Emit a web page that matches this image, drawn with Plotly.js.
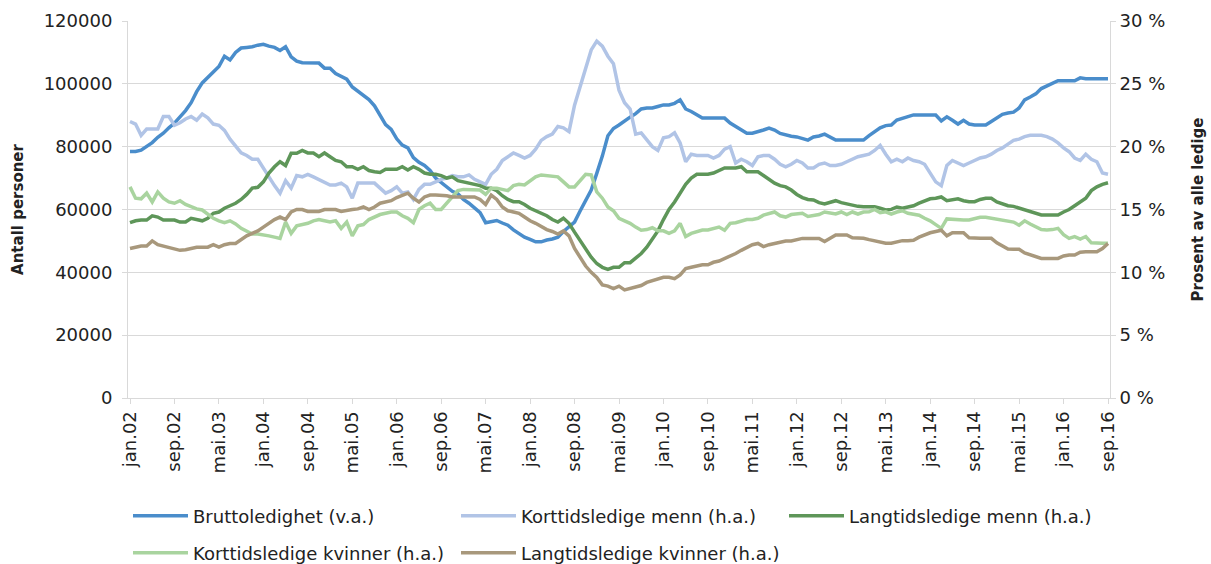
<!DOCTYPE html>
<html>
<head>
<meta charset="utf-8">
<script src="https://cdn.plot.ly/plotly-3.0.1.min.js"></script>
<style>
  html, body { margin: 0; padding: 0; background: #fff; }
  #chart { width: 1211px; height: 564px; }
</style>
</head>
<body>
<div id="chart"></div>
<script>
// månedlige observasjoner jan.02 - sep.16
var maaneder = ['jan', 'feb', 'mar', 'apr', 'mai', 'jun', 'jul', 'aug', 'sep', 'okt', 'nov', 'des'];
var periode = [];
for (var i = 0; i < 177; i++) {
  var aar = 2 + Math.floor(i / 12);
  periode.push(maaneder[i % 12] + '.' + (aar < 10 ? '0' + aar : '' + aar));
}
var tickPeriode = periode.filter(function (p, i) { return i % 8 === 0; });

// antall personer (venstre akse)
var brutto = [
  78500, 78500, 78900, 80000, 81300, 83000, 84300, 86000, 87500, 89500, 91500, 94000,
  97500, 100300, 102000, 103800, 105500, 108800, 107600, 110000, 111400, 111600, 111800, 112300,
  112600, 112000, 111600, 110600, 111800, 108600, 107200, 106700, 106600, 106600, 106600, 105000,
  105000, 103300, 102400, 101500, 99000, 97600, 96500, 95000, 93000, 90000, 87000, 85500,
  82500, 80500, 79600, 76500, 75000, 74000, 72400, 70000, 68500, 67000, 65800, 65000,
  63200, 62000, 60500, 59000, 55800, 56100, 56500, 55700, 55000, 53500, 52300, 51200,
  50500, 49700, 49700, 50300, 50600, 51200, 53000, 54400, 56000, 59500, 62600, 66200,
  71500, 77000, 83500, 85800, 86900, 88300, 89400, 90500, 92000, 92300, 92300, 92800,
  93300, 93300, 93800, 94900, 92000, 91200, 90000, 89100, 89100, 89100, 89100, 89100,
  87500, 86500, 85300, 84300, 84300, 84700, 85300, 85900, 85300, 84200, 83700, 83300,
  83100, 82600, 82100, 83100, 83400, 84000, 83000, 82100, 82100, 82100, 82100, 82100,
  82100, 83500, 84700, 86000, 86700, 86900, 88500, 89100, 89500, 90100, 90100, 90100,
  90100, 90100, 88200, 89500, 88400, 87200, 88400, 87200, 86900, 86900, 86900, 88000,
  89100, 90300, 90700, 91000, 92300, 94900, 95800, 96800, 98500, 99300, 100000, 101000,
  101000, 101000, 101000, 101900, 101600, 101600, 101600, 101600, 101600
];

// prosent av alle ledige (høyre akse)
var korttidMenn = [
  22.0, 21.8, 20.9, 21.4, 21.4, 21.4, 22.4, 22.4, 21.7, 21.9, 22.2, 22.4,
  22.1, 22.6, 22.3, 21.8, 21.7, 21.3, 20.6, 20.0, 19.5, 19.3, 19.0, 19.0,
  18.3, 17.5, 16.9, 16.3, 17.3, 16.7, 17.7, 17.6, 17.8, 17.6, 17.4, 17.2,
  16.95, 16.95, 17.1, 16.8, 15.9, 17.1, 17.1, 17.1, 17.1, 16.7, 16.3, 16.5,
  16.8, 16.3, 16.4, 15.8, 16.6, 17.0, 17.0, 17.2, 17.4, 17.5, 17.7, 17.6,
  17.6, 17.75, 17.4, 17.2, 17.0, 17.8, 18.2, 18.9, 19.2, 19.5, 19.3, 19.1,
  19.3, 19.8, 20.5, 20.8, 21.0, 21.6, 21.5, 21.2, 23.3, 24.8, 26.2, 27.7,
  28.4, 28.0, 27.2, 26.6, 24.5, 23.5, 23.0, 21.0, 21.1, 20.6, 20.0, 19.7,
  20.7, 20.8, 21.1, 20.3, 18.8, 19.4, 19.3, 19.3, 19.3, 19.1, 19.3, 19.8,
  20.0, 18.7, 19.0, 18.8, 18.5, 19.2, 19.3, 19.3, 19.0, 18.6, 18.4, 18.6,
  18.9, 18.7, 18.3, 18.3, 18.6, 18.7, 18.5, 18.5, 18.6, 18.8, 19.0, 19.2,
  19.3, 19.4, 19.7, 20.1, 19.4, 18.8, 19.0, 18.8, 19.1, 18.9, 18.8, 18.6,
  17.9, 17.2, 16.9, 18.5, 18.9, 18.7, 18.5, 18.7, 18.9, 19.1, 19.2, 19.4,
  19.7, 19.9, 20.2, 20.5, 20.6, 20.8, 20.9, 20.9, 20.9, 20.8, 20.6, 20.3,
  19.9, 19.6, 19.1, 18.9, 19.4, 19.0, 18.8, 17.9, 17.8
];
var langtidMenn = [
  13.95, 14.1, 14.16, 14.16, 14.5, 14.4, 14.16, 14.16, 14.16, 14.0, 14.0, 14.3,
  14.2, 14.1, 14.3, 14.7, 14.8, 15.1, 15.3, 15.5, 15.8, 16.2, 16.7, 16.77,
  17.2, 17.9, 18.4, 18.8, 18.5, 19.47, 19.47, 19.7, 19.5, 19.5, 19.2, 19.5,
  19.2, 18.9, 18.8, 18.4, 18.4, 18.2, 18.4, 18.1, 18.0, 17.95, 18.2, 18.2,
  18.2, 18.4, 18.14, 18.4, 18.2, 17.9, 17.8, 17.8, 17.7, 17.5, 17.6, 17.3,
  17.2, 17.1, 17.0, 16.9, 16.7, 16.7, 16.5, 16.1, 15.8, 15.62, 15.62, 15.4,
  15.1, 14.9, 14.7, 14.5, 14.2, 14.0, 14.3, 13.9, 13.2, 12.5, 11.8, 11.2,
  10.7, 10.4, 10.24, 10.4, 10.4, 10.77, 10.77, 11.1, 11.5, 12.0, 12.6, 13.3,
  14.2, 15.0, 15.6, 16.3, 17.0, 17.5, 17.8, 17.8, 17.8, 17.9, 18.1, 18.3,
  18.3, 18.3, 18.4, 18.0, 18.0, 18.0, 17.7, 17.4, 17.1, 16.9, 16.8, 16.55,
  16.2, 15.95, 15.8, 15.76, 15.55, 15.44, 15.54, 15.7, 15.55, 15.45, 15.3, 15.25,
  15.22, 15.25, 15.22, 15.1, 14.96, 15.01, 15.2, 15.1, 15.2, 15.3, 15.5, 15.65,
  15.85, 15.89, 16.0, 15.7, 15.8, 15.85, 15.7, 15.62, 15.62, 15.8, 15.89, 15.89,
  15.6, 15.45, 15.3, 15.25, 15.1, 14.96, 14.85, 14.7, 14.56, 14.56, 14.56, 14.56,
  14.8, 15.0, 15.3, 15.6, 15.9, 16.5, 16.8, 17.0, 17.13
];
var korttidKvinner = [
  16.8, 15.9, 15.85, 16.3, 15.6, 16.4, 15.9, 15.6, 15.5, 15.7, 15.4, 15.2,
  15.05, 14.96, 14.6, 14.3, 14.1, 13.95, 14.1, 13.85, 13.5, 13.3, 13.05, 13.05,
  13.0, 12.9, 12.8, 12.7, 14.0, 13.1, 13.7, 13.8, 13.9, 14.1, 14.2, 14.1,
  14.0, 14.1, 13.5, 14.0, 12.9, 13.7, 13.8, 14.2, 14.4, 14.6, 14.7, 14.8,
  14.8, 14.5, 14.3, 13.95, 15.0, 15.3, 15.5, 15.0, 15.0, 15.5, 16.0, 16.5,
  16.6, 16.6, 16.6, 16.55, 16.2, 16.7, 16.7, 16.6, 16.5, 16.9, 17.0, 16.95,
  17.3, 17.6, 17.75, 17.7, 17.6, 17.6, 17.2, 16.8, 16.8, 17.3, 17.8, 17.75,
  16.4, 15.9, 15.2, 14.9, 14.3, 14.1, 13.9, 13.6, 13.35, 13.4, 13.55, 13.3,
  13.3, 13.1, 13.3, 13.9, 12.85, 13.1, 13.2, 13.37, 13.37, 13.5, 13.6, 13.35,
  13.9, 13.95, 14.1, 14.2, 14.2, 14.3, 14.55, 14.7, 14.8, 14.5, 14.4, 14.6,
  14.64, 14.7, 14.45, 14.5, 14.6, 14.8, 14.75, 14.64, 14.8, 14.6, 14.8, 14.64,
  14.8, 14.82, 15.0, 14.75, 14.82, 14.64, 14.8, 14.9, 14.7, 14.6, 14.55, 14.3,
  14.1, 13.8, 13.5, 14.25, 14.2, 14.16, 14.16, 14.16, 14.3, 14.38, 14.38, 14.3,
  14.22, 14.16, 14.1, 14.0, 13.75, 14.1, 13.85, 13.6, 13.4, 13.37, 13.4, 13.5,
  13.0, 12.7, 12.84, 12.65, 12.85, 12.35, 12.31, 12.31, 12.31
];
var langtidKvinner = [
  11.9, 12.0, 12.1, 12.1, 12.5, 12.2, 12.1, 12.0, 11.9, 11.75, 11.8, 11.9,
  12.0, 12.0, 12.0, 12.2, 12.0, 12.2, 12.3, 12.3, 12.6, 12.9, 13.1, 13.3,
  13.6, 13.9, 14.2, 14.4, 14.2, 14.8, 15.0, 15.0, 14.85, 14.85, 14.85, 15.0,
  15.0, 15.0, 14.85, 14.95, 15.0, 15.05, 15.2, 15.0, 15.2, 15.5, 15.6, 15.7,
  15.95, 16.15, 16.3, 15.9, 15.6, 16.0, 16.15, 16.15, 16.15, 16.1, 16.0, 16.0,
  16.0, 16.0, 16.0, 15.8, 15.4, 16.15, 15.8, 15.2, 14.9, 14.8, 14.7, 14.4,
  14.1, 13.9, 13.65, 13.4, 13.25, 13.05, 13.3, 12.9, 11.9, 11.2, 10.5, 10.0,
  9.6, 9.0, 8.9, 8.7, 8.9, 8.6, 8.7, 8.8, 8.95, 9.2, 9.35, 9.5,
  9.6, 9.6, 9.5, 9.8, 10.3, 10.4, 10.5, 10.6, 10.6, 10.8, 10.9, 11.1,
  11.25, 11.5, 11.75, 11.95, 12.2, 12.3, 12.05, 12.2, 12.3, 12.4, 12.5, 12.5,
  12.6, 12.7, 12.7, 12.7, 12.7, 12.45, 12.7, 12.97, 12.97, 12.97, 12.75, 12.71,
  12.71, 12.6, 12.5, 12.35, 12.31, 12.31, 12.45, 12.52, 12.52, 12.55, 12.8, 13.0,
  13.15, 13.25, 13.35, 12.9, 13.15, 13.15, 13.15, 12.75, 12.71, 12.71, 12.71, 12.71,
  12.35, 12.1, 11.85, 11.83, 11.83, 11.55, 11.4, 11.2, 11.11, 11.11, 11.11, 11.11,
  11.3, 11.38, 11.38, 11.6, 11.64, 11.64, 11.64, 11.9, 12.3
];

var font = 'DejaVu Sans';
var grid = '#d9d9d9';

function serie(navn, y, farge, akse, legende) {
  return {
    type: 'scatter', mode: 'lines', name: navn,
    x: periode, y: y, yaxis: akse, legend: legende,
    line: { color: farge, width: 3.5 },
    hoverinfo: 'x+y+name'
  };
}

var data = [
  serie('Bruttoledighet (v.a.)', brutto, '#4a8dcb', 'y', 'legend'),
  serie('Korttidsledige menn (h.a.)', korttidMenn, '#b1c4e6', 'y2', 'legend'),
  serie('Langtidsledige menn (h.a.)', langtidMenn, '#5e9659', 'y2', 'legend'),
  serie('Korttidsledige kvinner (h.a.)', korttidKvinner, '#a9d49f', 'y2', 'legend2'),
  serie('Langtidsledige kvinner (h.a.)', langtidKvinner, '#a8987c', 'y2', 'legend2')
];

var legendeFelles = {
  orientation: 'h', xref: 'container', yref: 'container',
  xanchor: 'left', yanchor: 'middle',
  entrywidth: 258, entrywidthmode: 'pixels', itemwidth: 55,
  font: { family: font, size: 18, color: '#222' },
  bgcolor: 'rgba(0,0,0,0)'
};

var layout = {
  width: 1211, height: 564,
  margin: { l: 128, r: 101, t: 21, b: 166 },
  paper_bgcolor: '#fff', plot_bgcolor: '#fff',
  font: { family: font, size: 18, color: '#222' },
  showlegend: true,
  xaxis: {
    type: 'category', range: [-0.36, 176.36], automargin: false,
    tickmode: 'array', tickvals: tickPeriode, ticktext: tickPeriode,
    tickangle: -90, tickfont: { size: 18 },
    ticks: 'outside', ticklen: 5, tickcolor: grid,
    showline: true, linecolor: grid, linewidth: 1,
    showgrid: false, zeroline: false
  },
  yaxis: {
    range: [0, 120000], dtick: 20000, tickformat: 'd', automargin: false,
    title: { text: '<b>Antall personer</b>', font: { size: 15 }, standoff: 16 },
    ticks: 'outside', ticklen: 5, tickcolor: grid, ticklabelstandoff: 6,
    showline: true, linecolor: grid, gridcolor: grid, gridwidth: 1.2,
    zeroline: false
  },
  yaxis2: {
    overlaying: 'y', side: 'right', range: [0, 30], dtick: 5, ticksuffix: ' %',
    automargin: false,
    title: { text: '<b>Prosent av alle ledige</b>', font: { size: 15 }, standoff: 28 },
    ticks: 'outside', ticklen: 5, tickcolor: grid,
    showline: true, linecolor: grid, showgrid: false, zeroline: false
  },
  legend: Object.assign({ x: 0.1057, y: 0.0851 }, legendeFelles),
  legend2: Object.assign({ x: 0.1057, y: 0.0195 }, legendeFelles)
};

Plotly.newPlot('chart', data, layout, { displayModeBar: false, responsive: false });
</script>
</body>
</html>
